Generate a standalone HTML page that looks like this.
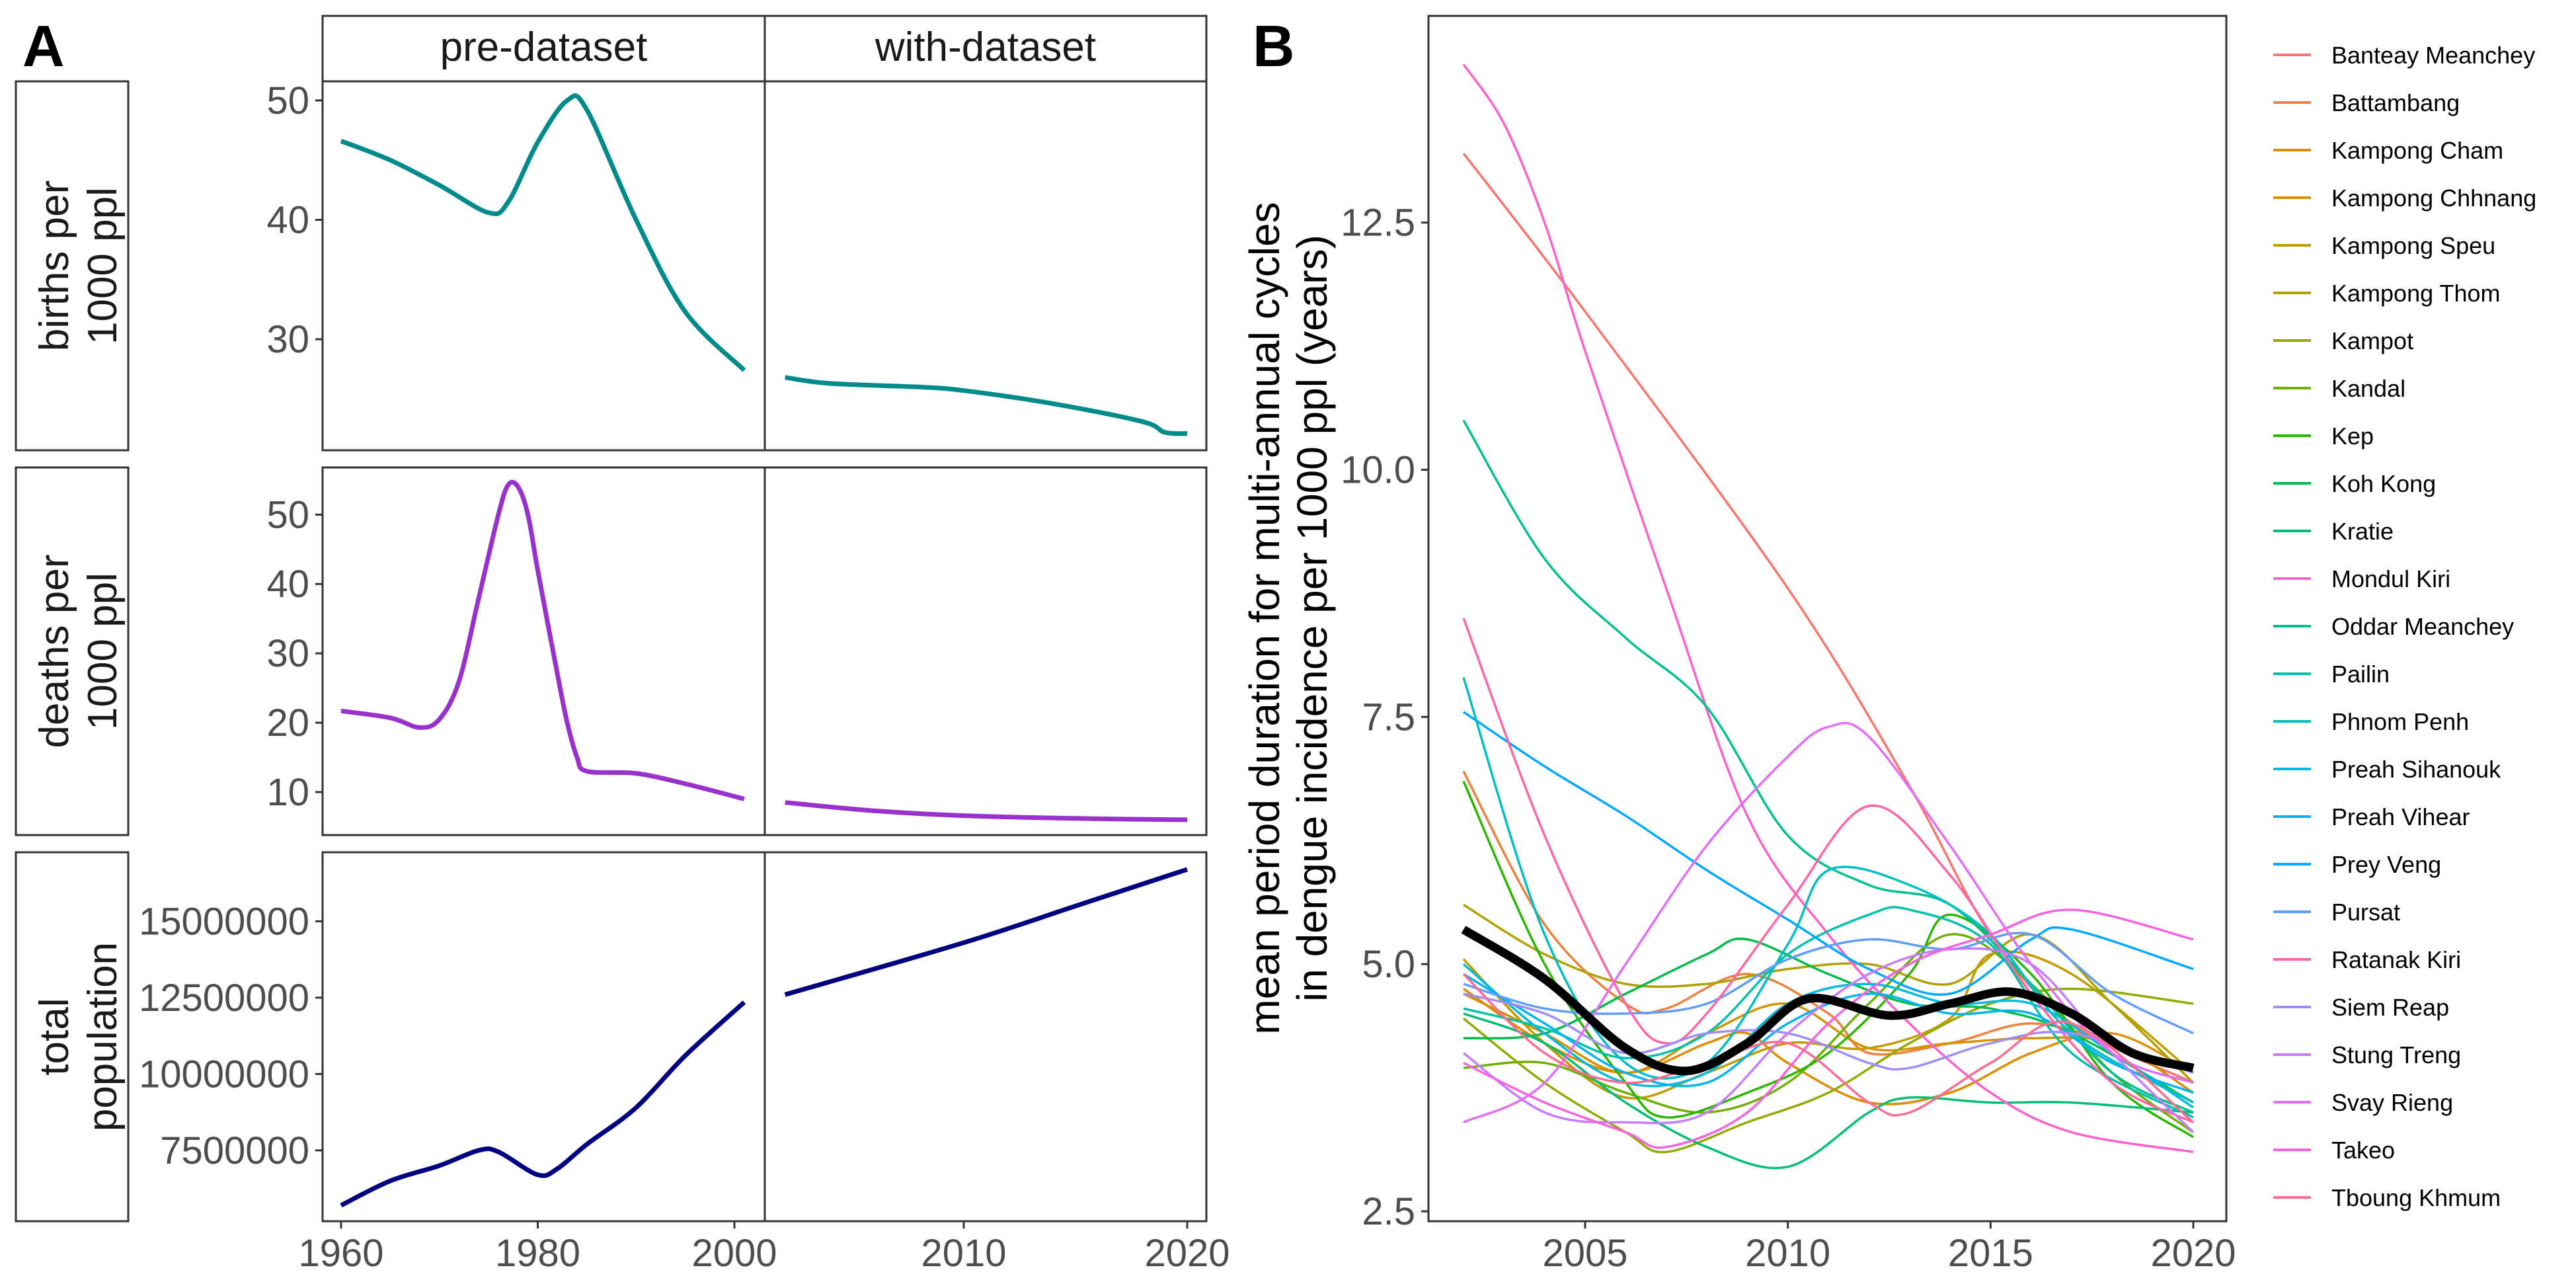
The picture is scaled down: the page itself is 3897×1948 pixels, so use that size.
<!DOCTYPE html>
<html><head><meta charset="utf-8">
<style>
html,body{margin:0;padding:0;background:#fff;}
svg{display:block;font-family:"Liberation Sans",Arial,sans-serif;}
</style></head>
<body>
<svg id="chart" width="3897" height="1948" viewBox="0 0 3897 1948" xmlns="http://www.w3.org/2000/svg">
<rect x="0" y="0" width="3897" height="1948" fill="#fff"/>
<g id="A"></g>
<g id="B"></g>
</svg>
<script>
// ---------- Panel A data ----------
const birthsPreYears = [1960,1965,1970,1975,1977,1980,1983,1985,1990,1995,2001];
const birthsPreVals  = [46.6,45.0,42.9,40.6,41.5,46.5,50.0,49.2,40.0,32.3,27.4];
const birthsWithYears = [2002,2004,2008,2010,2014,2018,2019,2020];
const birthsWithVals  = [26.8,26.3,26.0,25.7,24.6,23.1,22.2,22.1];
const deathsPreYears = [1960,1965,1968,1970,1972,1974,1976,1977,1978,1979,1980,1982,1983,1984,1985,1990,1995,2001];
const deathsPreVals  = [21.7,20.7,19.3,20.5,26,38,50,54.3,54,50,42,27,20,15,13,12.7,11.2,9.0];
const deathsWithYears = [2002,2006,2010,2015,2020];
const deathsWithVals  = [8.5,7.3,6.6,6.2,6.0];
const popPreYears = [1960,1965,1970,1974,1976,1980,1982,1985,1990,1995,2001];
const popPreVals  = [5.7e6,6.5e6,7.0e6,7.5e6,7.45e6,6.7e6,6.9e6,7.7e6,8.9e6,10.6e6,12.35e6];
const popWithYears = [2002,2010,2015,2020];
const popWithVals  = [12.6e6,14.3e6,15.5e6,16.7e6];
const birthsTicks = [30,40,50];
const deathsTicks = [10,20,30,40,50];
const popTicks = [7500000,10000000,12500000,15000000];
const preXTicks = [1960,1980,2000];
const withXTicks = [2010,2020];

// ---------- Panel B data ----------
const provinces = ["Banteay Meanchey","Battambang","Kampong Cham","Kampong Chhnang","Kampong Speu","Kampong Thom","Kampot","Kandal","Kep","Koh Kong","Kratie","Mondul Kiri","Oddar Meanchey","Pailin","Phnom Penh","Preah Sihanouk","Preah Vihear","Prey Veng","Pursat","Ratanak Kiri","Siem Reap","Stung Treng","Svay Rieng","Takeo","Tboung Khmum"];
const provinceHues = [15,30,45,55,68,80,95,110,125,140,155,330,168,180,195,210,225,240,255,350,270,285,300,318,360];
const seriesYears = [
 [2002,2005,2010,2013,2015,2017,2020],
 [2002,2004,2006,2007,2009,2011,2012,2014,2016,2018,2020],
 [2002,2004,2006,2008,2009,2010,2012,2014,2016,2018,2020],
 [2002,2004,2006,2008,2010,2012,2014,2016,2018,2020],
 [2002,2004,2006,2008,2010,2012,2014,2015,2017,2020],
 [2002,2004,2006,2008,2010,2012,2014,2016,2018,2020],
 [2002,2004,2006,2007,2009,2011,2013,2015,2017,2020],
 [2002,2004,2006,2008,2010,2012,2014,2016,2018,2020],
 [2002,2004,2006,2007,2009,2011,2013,2014,2016,2018,2020],
 [2002,2004,2006,2008,2009,2011,2013,2015,2017,2020],
 [2002,2004,2006,2008,2010,2012,2013,2015,2017,2020],
 [2002,2003,2004,2005,2007,2009,2011,2013,2015,2017,2020],
 [2002,2004,2006,2008,2010,2012,2014,2016,2018,2020],
 [2002,2004,2006,2008,2010,2012,2013,2015,2017,2020],
 [2002,2004,2006,2008,2010,2011,2013,2015,2017,2020],
 [2002,2004,2006,2008,2010,2012,2014,2016,2018,2020],
 [2002,2004,2006,2008,2010,2012,2014,2016,2018,2020],
 [2002,2004,2006,2008,2010,2012,2014,2016,2017,2020],
 [2002,2004,2006,2008,2010,2012,2014,2016,2018,2020],
 [2002,2004,2006,2007,2008,2010,2012,2014,2016,2018,2020],
 [2002,2004,2006,2008,2010,2012,2013,2015,2017,2020],
 [2002,2004,2006,2008,2010,2012,2014,2016,2018,2020],
 [2002,2004,2006,2008,2010,2011,2012,2014,2016,2018,2020],
 [2002,2004,2006,2007,2009,2011,2013,2015,2017,2020],
 [2002,2004,2006,2008,2010,2012,2013,2015,2017,2020]
];
const seriesVals = [
 [13.2,11.6,8.8,6.8,5.3,4.4,3.8],
 [6.95,5.4,4.6,4.55,4.9,4.5,4.1,4.2,4.4,4.2,3.9],
 [4.75,4.2,3.9,4.2,4.3,4.0,3.6,3.7,4.1,4.3,3.9],
 [4.7,4.3,3.9,4.3,4.6,4.15,4.2,4.25,4.2,3.7],
 [5.05,4.2,3.65,3.9,4.2,4.15,4.45,5.1,4.9,3.9],
 [5.6,5.1,4.8,4.8,4.95,5.0,4.8,5.3,4.6,3.8],
 [4.45,3.8,3.3,3.1,3.4,3.7,4.2,4.6,4.75,4.6],
 [3.95,4.0,3.7,3.5,3.8,4.6,5.3,4.8,3.9,3.3],
 [6.85,5.0,3.8,3.45,3.7,4.1,4.9,5.5,4.9,3.8,3.25],
 [4.25,4.3,4.7,5.1,5.25,4.9,4.6,4.55,4.3,3.6],
 [4.5,4.2,3.6,3.15,2.95,3.5,3.65,3.6,3.6,3.5],
 [14.1,13.5,12.5,11.2,8.8,6.5,5.3,4.4,3.7,3.3,3.1],
 [10.5,9.1,8.3,7.6,6.3,5.8,5.6,4.8,3.9,3.5],
 [4.55,4.35,4.05,4.3,5.1,5.5,5.55,5.2,4.1,3.45],
 [7.9,5.3,4.0,4.0,5.2,5.95,5.8,5.3,4.3,3.6],
 [5.0,4.3,3.8,3.9,4.6,4.8,4.6,4.6,4.1,3.55],
 [4.9,4.4,3.9,3.8,4.4,4.7,4.5,4.5,4.0,3.7],
 [7.55,7.0,6.5,5.95,5.45,4.95,4.7,5.25,5.35,4.95],
 [4.8,4.55,4.5,4.6,5.05,5.25,5.15,5.3,4.7,4.3],
 [8.5,6.3,4.6,4.2,4.5,5.6,6.6,5.9,4.7,3.8,3.4],
 [4.7,4.5,4.1,4.3,4.3,4.0,3.95,4.2,4.3,3.9],
 [4.1,3.5,3.4,3.5,4.3,4.9,5.15,5.0,4.1,3.3],
 [3.4,3.8,5.0,6.2,7.1,7.4,7.3,6.2,5.0,4.1,3.8],
 [4.0,3.6,3.3,3.15,3.5,4.4,5.0,5.3,5.55,5.25],
 [4.9,4.1,3.8,4.0,4.2,3.6,3.5,4.0,4.4,3.4]
];
const meanYears = [2002,2004,2006,2007.5,2009,2010.5,2012.5,2014,2015.5,2017,2018.5,2020];
const meanVals  = [5.35,4.85,4.15,3.92,4.2,4.65,4.48,4.6,4.72,4.5,4.1,3.95];
const bYTicks = [2.5,5.0,7.5,10.0,12.5];
const bYTickLabels = ["2.5","5.0","7.5","10.0","12.5"];
const bXTicks = [2005,2010,2015,2020];

// ---------- helpers ----------
const NS="http://www.w3.org/2000/svg";
function mk(tag, attrs, parent, text){
  const e=document.createElementNS(NS,tag);
  for(const k in attrs) e.setAttribute(k,attrs[k]);
  if(text!==undefined) e.textContent=text;
  parent.appendChild(e); return e;
}
function linScale(d0,d1,r0,r1){return v=>r0+(v-d0)*(r1-r0)/(d1-d0);}
function smoothPath(pts){
  let d="M"+pts[0][0].toFixed(1)+","+pts[0][1].toFixed(1);
  for(let i=0;i<pts.length-1;i++){
    const p0=pts[Math.max(0,i-1)],p1=pts[i],p2=pts[i+1],p3=pts[Math.min(pts.length-1,i+2)];
    const c1=[p1[0]+(p2[0]-p0[0])/6,p1[1]+(p2[1]-p0[1])/6];
    const c2=[p2[0]-(p3[0]-p1[0])/6,p2[1]-(p3[1]-p1[1])/6];
    d+="C"+c1[0].toFixed(1)+","+c1[1].toFixed(1)+" "+c2[0].toFixed(1)+","+c2[1].toFixed(1)+" "+p2[0].toFixed(1)+","+p2[1].toFixed(1);
  }
  return d;
}
function hcl(h,c,l){
  const hr=h*Math.PI/180;
  const L=l, U=c*Math.cos(hr), V=c*Math.sin(hr);
  const Xn=95.047,Yn=100,Zn=108.883;
  const un=4*Xn/(Xn+15*Yn+3*Zn), vn=9*Yn/(Xn+15*Yn+3*Zn);
  const Y = L>8 ? Yn*Math.pow((L+16)/116,3) : Yn*L/903.3;
  const u=U/(13*L)+un, v=V/(13*L)+vn;
  const X=9*Y*u/(4*v), Z=X*(12-3*u-20*v)/(9*u);
  const x=X/100,y=Y/100,z=Z/100;
  let r=3.2406*x-1.5372*y-0.4986*z, g=-0.9689*x+1.8758*y+0.0415*z, b=0.0557*x-0.2040*y+1.0570*z;
  const gam=t=>{t=t<=0.0031308?12.92*t:1.055*Math.pow(t,1/2.4)-0.055;return Math.round(Math.max(0,Math.min(1,t))*255);};
  return "rgb("+gam(r)+","+gam(g)+","+gam(b)+")";
}
const TICKC="#333", LABC="#4d4d4d";

// ---------- Panel A ----------
const A=document.getElementById("A");
mk("text",{x:34,y:100,"font-size":88,"font-weight":"bold",fill:"#000",},A,"A");
const colL=488, colM=1157, colR=1825;
const xPre=linScale(1960,2000,516,1111);
const xWith=linScale(2010,2020,1458,1796);
const strip=mk("g",{},A);
mk("rect",{x:colL,y:24,width:colM-colL,height:99,fill:"#fff",stroke:"#333","stroke-width":3,},strip);
mk("rect",{x:colM,y:24,width:colR-colM,height:99,fill:"#fff",stroke:"#333","stroke-width":3,},strip);
mk("text",{x:(colL+colM)/2,y:92,"font-size":62,"text-anchor":"middle",fill:"#1a1a1a",},strip,"pre-dataset");
mk("text",{x:(colM+colR)/2,y:92,"font-size":62,"text-anchor":"middle",fill:"#1a1a1a",},strip,"with-dataset");

const rows=[
 {name:"births",top:123,bot:681,d0:51.6,d1:20.7,ticks:birthsTicks,lab:t=>String(t),color:"#008B8B",
  pre:[birthsPreYears,birthsPreVals],wth:[birthsWithYears,birthsWithVals],l1:"births per",l2:"1000 ppl"},
 {name:"deaths",top:707,bot:1263,d0:56.8,d1:3.8,ticks:deathsTicks,lab:t=>String(t),color:"#9932CC",
  pre:[deathsPreYears,deathsPreVals],wth:[deathsWithYears,deathsWithVals],l1:"deaths per",l2:"1000 ppl"},
 {name:"population",top:1289,bot:1847,d0:17.26e6,d1:5.18e6,ticks:popTicks,lab:t=>String(t),color:"#000080",
  pre:[popPreYears,popPreVals],wth:[popWithYears,popWithVals],l1:"total",l2:"population"}
];
rows.forEach(r=>{
  const g=mk("g",{},A);
  const y=linScale(r.d0,r.d1,r.top,r.bot);
  mk("rect",{x:24,y:r.top,width:170,height:r.bot-r.top,fill:"#fff",stroke:"#333","stroke-width":3,},g);
  const cy=(r.top+r.bot)/2;
  mk("text",{x:0,y:0,"font-size":62,"text-anchor":"middle",fill:"#1a1a1a",transform:"translate(103,"+cy+") rotate(-90)",},g,r.l1);
  mk("text",{x:0,y:0,"font-size":62,"text-anchor":"middle",fill:"#1a1a1a",transform:"translate(176,"+cy+") rotate(-90)",},g,r.l2);
  mk("rect",{x:colL,y:r.top,width:colM-colL,height:r.bot-r.top,fill:"#fff",stroke:"#333","stroke-width":3,},g);
  mk("rect",{x:colM,y:r.top,width:colR-colM,height:r.bot-r.top,fill:"#fff",stroke:"#333","stroke-width":3,},g);
  r.ticks.forEach(t=>{
    const yy=y(t);
    mk("line",{x1:colL-11,x2:colL,y1:yy,y2:yy,stroke:TICKC,"stroke-width":3,},g);
    mk("text",{x:colL-20,y:yy+20,"font-size":58,"text-anchor":"end",fill:LABC,},g,r.lab(t));
  });
  const pp=r.pre[0].map((yr,i)=>[xPre(yr),y(r.pre[1][i])]);
  const wp=r.wth[0].map((yr,i)=>[xWith(yr),y(r.wth[1][i])]);
  mk("path",{d:smoothPath(pp),fill:"none",stroke:r.color,"stroke-width":7,"stroke-linejoin":"round",},g);
  mk("path",{d:smoothPath(wp),fill:"none",stroke:r.color,"stroke-width":7,"stroke-linejoin":"round",},g);
});
const ax=mk("g",{},A);
preXTicks.forEach(t=>{
  const xx=xPre(t);
  mk("line",{x1:xx,x2:xx,y1:1847,y2:1858,stroke:TICKC,"stroke-width":3,},ax);
  mk("text",{x:xx,y:1915,"font-size":58,"text-anchor":"middle",fill:LABC,},ax,String(t));
});
withXTicks.forEach(t=>{
  const xx=xWith(t);
  mk("line",{x1:xx,x2:xx,y1:1847,y2:1858,stroke:TICKC,"stroke-width":3,},ax);
  mk("text",{x:xx,y:1915,"font-size":58,"text-anchor":"middle",fill:LABC,},ax,String(t));
});

// ---------- Panel B ----------
const B=document.getElementById("B");
mk("text",{x:1895,y:100,"font-size":88,"font-weight":"bold",fill:"#000",},B,"B");
const bL=2161,bR=3368,bT=24,bB=1847;
const bx=linScale(2005,2020,2398,3318);
const by=linScale(12.5,2.5,336.6,1832);
mk("rect",{x:bL,y:bT,width:bR-bL,height:bB-bT,fill:"#fff",stroke:"#333","stroke-width":3,},B);
bYTicks.forEach((t,i)=>{
  const yy=by(t);
  mk("line",{x1:bL-11,x2:bL,y1:yy,y2:yy,stroke:TICKC,"stroke-width":3,},B);
  mk("text",{x:bL-20,y:yy+20,"font-size":58,"text-anchor":"end",fill:LABC,},B,bYTickLabels[i]);
});
bXTicks.forEach(t=>{
  const xx=bx(t);
  mk("line",{x1:xx,x2:xx,y1:bB,y2:bB+11,stroke:TICKC,"stroke-width":3,},B);
  mk("text",{x:xx,y:1915,"font-size":58,"text-anchor":"middle",fill:LABC,},B,String(t));
});
mk("text",{x:0,y:0,"font-size":64,"text-anchor":"middle",fill:"#000",transform:"translate(1935,935) rotate(-90)",},B,"mean period duration for multi-annual cycles");
mk("text",{x:0,y:0,"font-size":64,"text-anchor":"middle",fill:"#000",transform:"translate(2007,935) rotate(-90)",},B,"in dengue incidence per 1000 ppl (years)");
const colors=provinceHues.map(h=>hcl(h,100,65));
const lines=mk("g",{},B);
provinces.forEach((p,i)=>{
  const pts=seriesYears[i].map((yr,j)=>[bx(yr),by(seriesVals[i][j])]);
  const el=mk("path",{d:smoothPath(pts),fill:"none",stroke:colors[i],"stroke-width":3.5},lines);
  
  
});
const mpts=meanYears.map((yr,j)=>[bx(yr),by(meanVals[j])]);
mk("path",{d:smoothPath(mpts),fill:"none",stroke:"#000","stroke-width":13,"stroke-linecap":"butt",},B);
const lg=mk("g",{},B);
provinces.forEach((p,i)=>{
  const yy=83+72*i;
  const item=mk("g",{},lg);
  
  
  mk("line",{x1:3439,x2:3496,y1:yy,y2:yy,stroke:colors[i],"stroke-width":4},item);
  mk("text",{x:3527,y:yy+13,"font-size":36,fill:"#000"},item,p);
});
</script>
</body></html>
